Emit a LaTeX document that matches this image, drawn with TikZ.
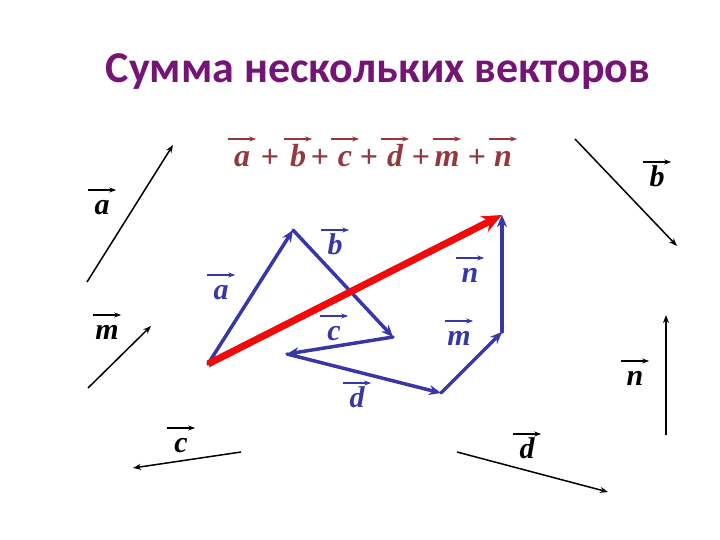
\documentclass[tikz,border=0pt]{standalone}
\usepackage{fontspec}
\setmainfont{Liberation Serif}
\newfontfamily\titlefont{Carlito}
\usetikzlibrary{arrows.meta}
\usetikzlibrary{calc}
\definecolor{titlecol}{RGB}{118,20,118}
\definecolor{sumcol}{RGB}{150,55,62}
\definecolor{polycol}{RGB}{55,55,170}
\definecolor{redcol}{RGB}{240,10,10}

\begin{document}
\begin{tikzpicture}[x=1pt, y=-1pt,
        lbl/.style={inner sep=0pt, minimum width=28pt, text height=24pt, text depth=0pt,
            anchor=north, text=#1, font=\bfseries\itshape\fontsize{30}{32}\selectfont,
            append after command={(\tikzlastnode.north west) edge[draw=#1, line width=1.1pt,
                -{Stealth[length=7pt, width=5pt]}] (\tikzlastnode.north east)}},
        lbl/.default=black,
        sumlbl/.style={lbl=sumcol, text height=27pt, font=\bfseries\itshape\fontsize{32}{34}\selectfont},
        plus/.style={text=sumcol, inner sep=0pt, font=\bfseries\fontsize{32}{34}\selectfont},
        free/.style={draw=black, line width=1.5pt, -{Stealth[length=8pt, width=6pt]}},
        side/.style={draw=polycol, line width=3.5pt, line cap=round, -{Stealth[length=12pt, width=10pt]}},
        total/.style={draw=redcol, line width=7pt, -{Stealth[length=20pt, width=17pt]}}]
            \useasboundingbox (0, 0) rectangle (720, 540);
            \node[text=titlecol, font=\titlefont\bfseries\fontsize{44}{46}\selectfont, anchor=base] (title) at (378, 83) {Сумма нескольких векторов};
            \coordinate (a tail) at (87, 282);
            \coordinate (a head) at (173, 145);
            \coordinate (b tail) at (575, 139);
            \coordinate (b head) at (677, 246);
            \coordinate (m tail) at (88, 388);
            \coordinate (m head) at (151, 326);
            \coordinate (c tail) at (241, 452);
            \coordinate (c head) at (133, 468);
            \coordinate (n tail) at (666, 435);
            \coordinate (n head) at (666, 315);
            \coordinate (d tail) at (457, 452);
            \coordinate (d head) at (608, 492);
            \draw[free] (a tail) -- (a head);
            \draw[free] (b tail) -- (b head);
            \draw[free] (m tail) -- (m head);
            \draw[free] (c tail) -- (c head);
            \draw[free] (n tail) -- (n head);
            \draw[free] (d tail) -- (d head);
            \node[lbl] (a free) at (102, 190) {a};
            \node[lbl] (b free) at (657, 162) {b};
            \node[lbl] (m free) at (107, 315) {m};
            \node[lbl] (c free) at (181, 428) {c};
            \node[lbl] (n free) at (635, 361) {n};
            \node[lbl] (d free) at (527, 434) {d};
            \coordinate (O) at (208, 364);
            \coordinate (Pa) at (293, 230);
            \coordinate (Pb) at (393, 337);
            \coordinate (Pc) at (287, 354);
            \coordinate (Pd) at (441, 393);
            \coordinate (Pm) at (502, 332);
            \coordinate (Pn) at (502, 215);
            \draw[side] (O) -- (Pa);
            \draw[side] (Pa) -- (Pb);
            \draw[side] (Pb) -- (Pc);
            \draw[side] (Pc) -- (Pd);
            \draw[side] (Pd) -- (Pm);
            \draw[side] (Pm) -- (Pn);
            \draw[total] (O) -- (Pn);
            \node[lbl=polycol] (a side) at (221, 275) {a};
            \node[lbl=polycol] (b side) at (335, 230) {b};
            \node[lbl=polycol] (n side) at (470, 258) {n};
            \node[lbl=polycol] (c side) at (334, 316) {c};
            \node[lbl=polycol] (m side) at (459, 321) {m};
            \node[lbl=polycol] (d side) at (357, 383) {d};
            \node[sumlbl] (sa) at (242, 139) {a};
            \node[plus] (p1) at (270, 158) {+};
            \node[sumlbl] (sb) at (298, 139) {b};
            \node[plus] (p2) at (320, 158) {+};
            \node[sumlbl] (sc) at (345, 139) {c};
            \node[plus] (p3) at (369, 158) {+};
            \node[sumlbl] (sd) at (395, 139) {d};
            \node[plus] (p4) at (421, 158) {+};
            \node[sumlbl] (sm) at (447, 139) {m};
            \node[plus] (p5) at (477, 158) {+};
            \node[sumlbl] (sn) at (503, 139) {n};
        \end{tikzpicture}
\end{document}
